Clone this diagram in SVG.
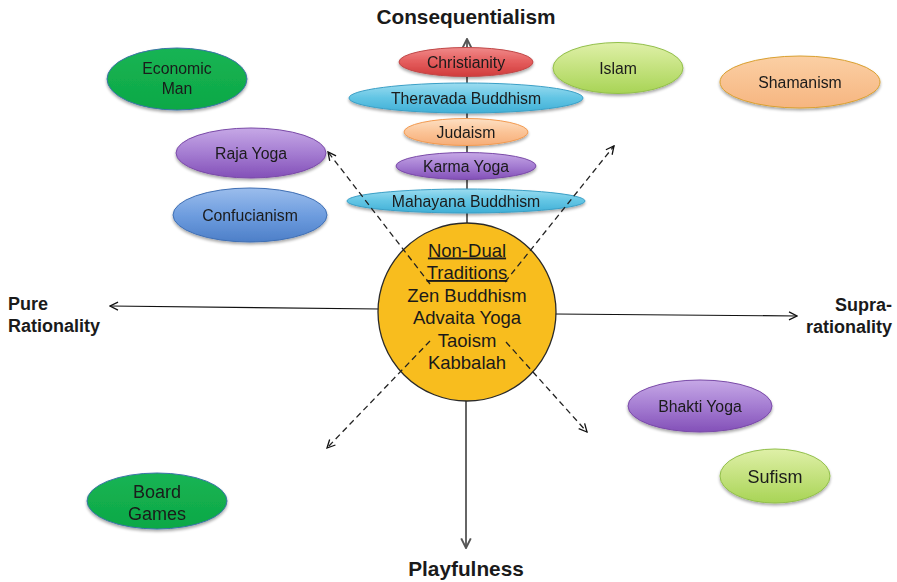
<svg xmlns="http://www.w3.org/2000/svg" width="897" height="582" viewBox="0 0 897 582">
<defs>
<style>
.t{font-family:"Liberation Sans",Arial,sans-serif;fill:#1a1a1a;text-anchor:middle}
.n{font-size:15.8px}
.b{font-size:18px}
.lbl{font-family:"Liberation Sans",Arial,sans-serif;font-weight:bold;fill:#1a1a1a}
.ax{stroke:#111;stroke-width:1.2;fill:none}
.vx{stroke:#666;stroke-width:2;fill:none}
.ds{stroke:#222;stroke-width:1.3;fill:none;stroke-dasharray:6 4}
</style>
<linearGradient id="gRed" x1="0" y1="0" x2="0" y2="1"><stop offset="0" stop-color="#f08a8a"/><stop offset="0.5" stop-color="#e45c5c"/><stop offset="1" stop-color="#d03c3c"/></linearGradient>
<linearGradient id="gCyan" x1="0" y1="0" x2="0" y2="1"><stop offset="0" stop-color="#9cdcf0"/><stop offset="0.5" stop-color="#62c5e4"/><stop offset="1" stop-color="#40afd6"/></linearGradient>
<linearGradient id="gOrange" x1="0" y1="0" x2="0" y2="1"><stop offset="0" stop-color="#fde0c4"/><stop offset="0.5" stop-color="#fbc497"/><stop offset="1" stop-color="#f6ad78"/></linearGradient>
<linearGradient id="gPurple" x1="0" y1="0" x2="0" y2="1"><stop offset="0" stop-color="#c6a8e6"/><stop offset="0.5" stop-color="#a57dd2"/><stop offset="1" stop-color="#8350b8"/></linearGradient>
<linearGradient id="gBlue" x1="0" y1="0" x2="0" y2="1"><stop offset="0" stop-color="#9bbdec"/><stop offset="0.5" stop-color="#6e9ddf"/><stop offset="1" stop-color="#4d7fc8"/></linearGradient>
<linearGradient id="gGreen" x1="0" y1="0" x2="0" y2="1"><stop offset="0" stop-color="#16b454"/><stop offset="1" stop-color="#0ea846"/></linearGradient>
<linearGradient id="gLime" x1="0" y1="0" x2="0" y2="1"><stop offset="0" stop-color="#dff0a8"/><stop offset="0.5" stop-color="#c4e27e"/><stop offset="1" stop-color="#a8d456"/></linearGradient>
<linearGradient id="gSham" x1="0" y1="0" x2="0" y2="1"><stop offset="0" stop-color="#fbcfa4"/><stop offset="1" stop-color="#f6b580"/></linearGradient>
<filter id="sh" x="-10%" y="-10%" width="120%" height="130%"><feGaussianBlur in="SourceAlpha" stdDeviation="1.5"/><feOffset dy="2" result="o"/><feComponentTransfer><feFuncA type="linear" slope="0.35"/></feComponentTransfer><feMerge><feMergeNode/><feMergeNode in="SourceGraphic"/></feMerge></filter>
<marker id="ah" viewBox="0 0 10 10" refX="9" refY="5" markerWidth="10" markerHeight="10" markerUnits="userSpaceOnUse" orient="auto"><path d="M1,1 L9,5 L1,9" fill="none" stroke="#111" stroke-width="1.3"/></marker>
<marker id="ahg" viewBox="0 0 10 10" refX="9" refY="5" markerWidth="12" markerHeight="12" markerUnits="userSpaceOnUse" orient="auto"><path d="M1,1 L9,5 L1,9" fill="none" stroke="#555" stroke-width="1.6"/></marker>
</defs>
<rect width="897" height="582" fill="#fff"/>

<g id="connectors">
<line class="ax" x1="380" y1="309" x2="110" y2="306" marker-end="url(#ah)"/>
<line class="ax" x1="555" y1="314" x2="797" y2="316" marker-end="url(#ah)"/>
<line class="vx" x1="467" y1="226" x2="467" y2="39" marker-end="url(#ahg)"/>
<line class="vx" x1="466" y1="400" x2="466" y2="548" marker-end="url(#ahg)"/>
</g>

<g id="n-christianity" filter="url(#sh)"><ellipse cx="466" cy="62" rx="67" ry="14.5" fill="url(#gRed)" stroke="#c04848"/><text class="t n" x="466" y="67.5">Christianity</text></g>
<g id="n-theravada" filter="url(#sh)"><ellipse cx="466" cy="98" rx="117" ry="15" fill="url(#gCyan)" stroke="#3a9fc6"/><text class="t n" x="466" y="103.5">Theravada Buddhism</text></g>
<g id="n-judaism" filter="url(#sh)"><ellipse cx="466" cy="132" rx="62" ry="13.5" fill="url(#gOrange)" stroke="#f29a50"/><text class="t n" x="466" y="137.5">Judaism</text></g>
<g id="n-karma" filter="url(#sh)"><ellipse cx="466" cy="166" rx="70" ry="13.5" fill="url(#gPurple)" stroke="#7a4aa8"/><text class="t n" x="466" y="171.5">Karma Yoga</text></g>
<g id="n-mahayana" filter="url(#sh)"><ellipse cx="466" cy="201" rx="119" ry="12" fill="url(#gCyan)" stroke="#3a9fc6"/><text class="t n" x="466" y="206.5">Mahayana Buddhism</text></g>

<g id="n-economic" filter="url(#sh)"><ellipse cx="177" cy="79" rx="70" ry="31" fill="url(#gGreen)" stroke="#3c74a8"/><text class="t n" x="177" y="74">Economic</text><text class="t n" x="177" y="94">Man</text></g>
<g id="n-raja" filter="url(#sh)"><ellipse cx="251" cy="153" rx="75" ry="25" fill="url(#gPurple)" stroke="#7a4aa8"/><text class="t n" x="251" y="158.5">Raja Yoga</text></g>
<g id="n-confucianism" filter="url(#sh)"><ellipse cx="250" cy="215" rx="77" ry="27" fill="url(#gBlue)" stroke="#3f6fb4"/><text class="t n" x="250" y="220.5">Confucianism</text></g>
<g id="n-islam" filter="url(#sh)"><ellipse cx="618" cy="68" rx="65" ry="25.5" fill="url(#gLime)" stroke="#92bf4a"/><text class="t n" x="618" y="73.5">Islam</text></g>
<g id="n-shamanism" filter="url(#sh)"><ellipse cx="800" cy="82" rx="80" ry="26" fill="url(#gSham)" stroke="#d9a030"/><text class="t n" x="800" y="87.5">Shamanism</text></g>
<g id="n-bhakti" filter="url(#sh)"><ellipse cx="700" cy="406" rx="72" ry="26" fill="url(#gPurple)" stroke="#7a4aa8"/><text class="t n" x="700" y="411.5">Bhakti Yoga</text></g>
<g id="n-sufism" filter="url(#sh)"><ellipse cx="775" cy="476" rx="55" ry="27" fill="url(#gLime)" stroke="#92bf4a"/><text class="t b" x="775" y="482.5">Sufism</text></g>
<g id="n-board" filter="url(#sh)"><ellipse cx="157" cy="501" rx="70" ry="28" fill="url(#gGreen)" stroke="#3c74a8"/><text class="t b" x="157" y="498">Board</text><text class="t b" x="157" y="520">Games</text></g>

<g id="n-nondual">
<circle cx="467" cy="312" r="89" fill="#f8bd1e" stroke="#2a2a2a" stroke-width="1.3"/>
</g>

<g id="dashed">
<line class="ds" x1="430" y1="284" x2="328" y2="152" marker-end="url(#ah)"/>
<line class="ds" x1="505" y1="282" x2="614" y2="146" marker-end="url(#ah)"/>
<line class="ds" x1="430" y1="341" x2="327" y2="448" marker-end="url(#ah)"/>
<line class="ds" x1="506" y1="342" x2="587" y2="432" marker-end="url(#ah)"/>
</g>

<g id="n-nondual-text" style="font-size:18.5px">
<text class="t" x="467" y="256.5" text-decoration="underline">Non-Dual</text>
<text class="t" x="467" y="279" text-decoration="underline">Traditions</text>
<text class="t" x="467" y="301.5">Zen Buddhism</text>
<text class="t" x="467" y="324">Advaita Yoga</text>
<text class="t" x="467" y="346.5">Taoism</text>
<text class="t" x="467" y="369">Kabbalah</text>
</g>

<g id="labels">
<text class="lbl" x="466" y="24" text-anchor="middle" style="font-size:20.8px">Consequentialism</text>
<text class="lbl" x="466" y="576" text-anchor="middle" style="font-size:20.8px">Playfulness</text>
<text class="lbl" x="8" y="310" style="font-size:18px">Pure</text>
<text class="lbl" x="8" y="332" style="font-size:18px">Rationality</text>
<text class="lbl" x="892" y="311" text-anchor="end" style="font-size:18px">Supra-</text>
<text class="lbl" x="892" y="333" text-anchor="end" style="font-size:18px">rationality</text>
</g>
</svg>
